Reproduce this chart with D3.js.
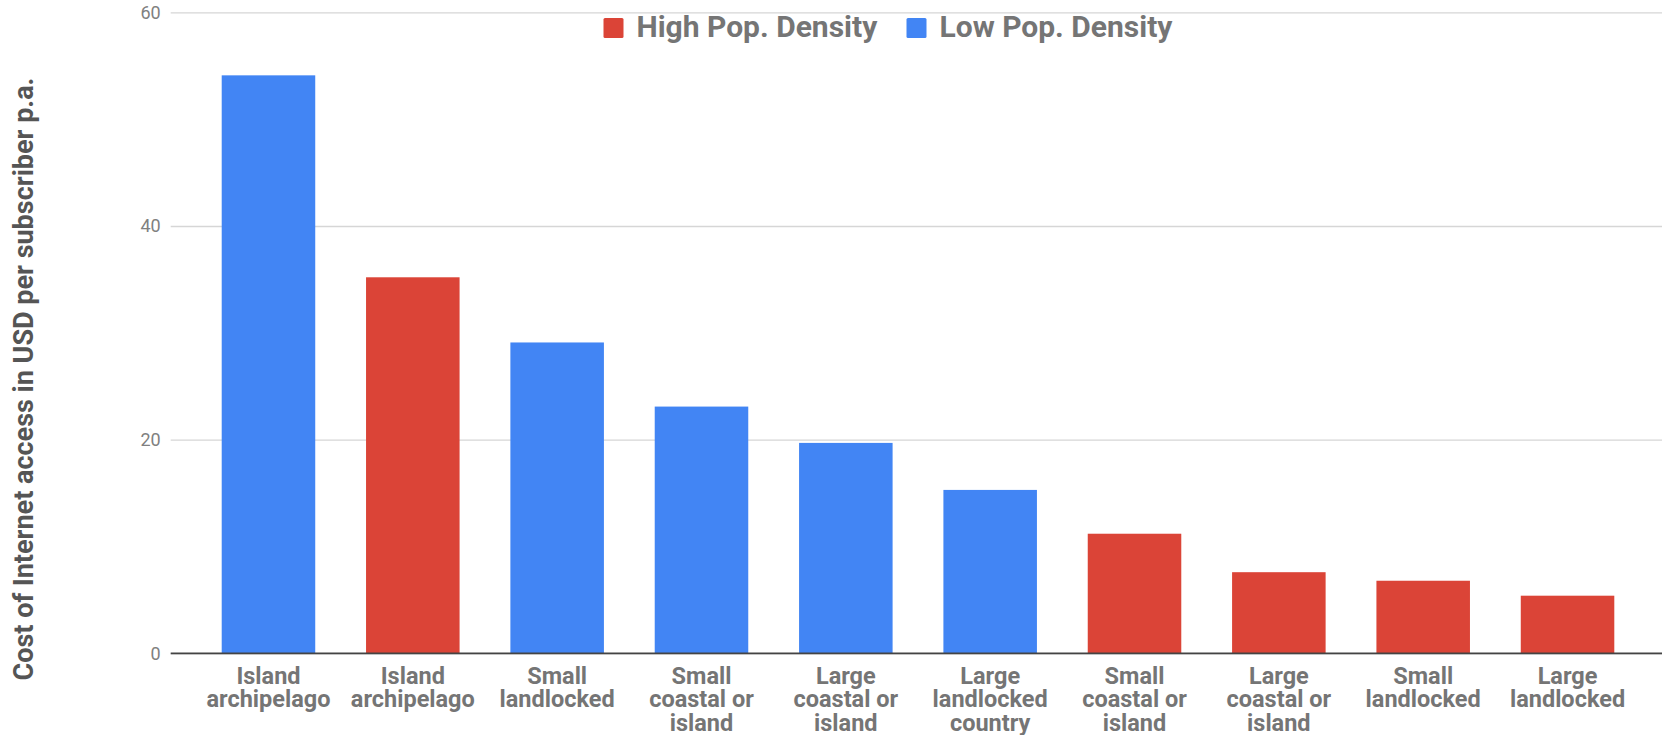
<!DOCTYPE html>
<html>
<head>
<meta charset="utf-8">
<script src="https://cdn.jsdelivr.net/npm/d3@7"></script>
<style>
  html, body { margin: 0; padding: 0; background: #fff; }
  svg { display: block; font-family: Roboto, "Noto Sans", sans-serif; }
</style>
</head>
<body>
<svg id="chart" width="1662" height="735"></svg>
<script>
// Cost of Internet access per subscriber, by country type and population density
const categories = [
  ["Island", "archipelago"],
  ["Island", "archipelago"],
  ["Small", "landlocked"],
  ["Small", "coastal or", "island"],
  ["Large", "coastal or", "island"],
  ["Large", "landlocked", "country"],
  ["Small", "coastal or", "island"],
  ["Large", "coastal or", "island"],
  ["Small", "landlocked"],
  ["Large", "landlocked"]
];
const density = ["Low", "High", "Low", "Low", "Low", "Low", "High", "High", "High", "High"];
const values = [54.1, 35.2, 29.1, 23.1, 19.7, 15.3, 11.2, 7.6, 6.8, 5.4];
const seriesNames = ["High", "Low"];
const legendLabels = ["High Pop. Density", "Low Pop. Density"];
const yTicks = [0, 20, 40, 60];

const colors = { High: "#db4437", Low: "#4285f4" };

const svg = d3.select("#chart");
const plot = { left: 170.7, right: 1662, top: 12.3, bottom: 653.4 };

const x = d3.scaleBand()
  .domain(d3.range(values.length))
  .range([196.3, 1639.7])
  .paddingInner(0.352)
  .paddingOuter(0.176);

const y = d3.scaleLinear()
  .domain([0, 60])
  .range([plot.bottom, plot.top]);

// gridlines + tick labels
const yAxis = svg.append("g")
  .attr("transform", `translate(${plot.left},0)`)
  .call(d3.axisLeft(y).tickValues(yTicks).tickSize(-(plot.right - plot.left)).tickPadding(10));
yAxis.select(".domain").remove();
yAxis.selectAll(".tick line").attr("stroke", "#d6d6d6").attr("stroke-width", 1.3);
yAxis.selectAll(".tick text")
  .attr("fill", "#808080")
  .attr("font-size", 18)
  .attr("font-family", "Roboto, sans-serif");

// bars
svg.append("g").selectAll("rect")
  .data(values)
  .join("rect")
  .attr("x", (d, i) => x(i))
  .attr("width", x.bandwidth())
  .attr("y", d => y(d))
  .attr("height", d => y(0) - y(d))
  .attr("fill", (d, i) => colors[density[i]]);

// baseline
svg.append("line")
  .attr("x1", plot.left).attr("x2", plot.right)
  .attr("y1", y(0)).attr("y2", y(0))
  .attr("stroke", "#444").attr("stroke-width", 1.6);

// category labels
const xAxis = svg.append("g")
  .attr("transform", `translate(0,${y(0)})`)
  .call(d3.axisBottom(x).tickSize(0).tickFormat(() => ""));
xAxis.select(".domain").remove();
xAxis.selectAll(".tick text").remove();
xAxis.selectAll(".tick").each(function (i) {
  const t = d3.select(this).append("text")
    .attr("text-anchor", "middle")
    .attr("fill", "#757575")
    .attr("font-weight", "bold")
    .attr("font-size", 23.5)
    .attr("font-family", "Roboto, sans-serif");
  categories[i].forEach((line, k) => {
    t.append("tspan").attr("x", 0).attr("y", 30.6 + k * 23.3).text(line);
  });
});

// y-axis title
svg.append("text")
  .attr("transform", "translate(33,379) rotate(-90)")
  .attr("text-anchor", "middle")
  .attr("fill", "#555")
  .attr("font-weight", "bold")
  .attr("font-size", 27)
  .attr("font-family", "Roboto, sans-serif")
  .text("Cost of Internet access in USD per subscriber p.a.");

// legend
const legendX = [603.5, 906.5];
const legend = svg.append("g");
seriesNames.forEach((s, i) => {
  legend.append("rect")
    .attr("x", legendX[i]).attr("y", 18)
    .attr("width", 20).attr("height", 20)
    .attr("rx", 1.5)
    .attr("fill", colors[s]);
  legend.append("text")
    .attr("x", legendX[i] + 33).attr("y", 37)
    .attr("fill", "#757575")
    .attr("font-weight", "bold")
    .attr("font-size", 30)
    .attr("font-family", "Roboto, sans-serif")
    .text(legendLabels[i]);
});
</script>
</body>
</html>
